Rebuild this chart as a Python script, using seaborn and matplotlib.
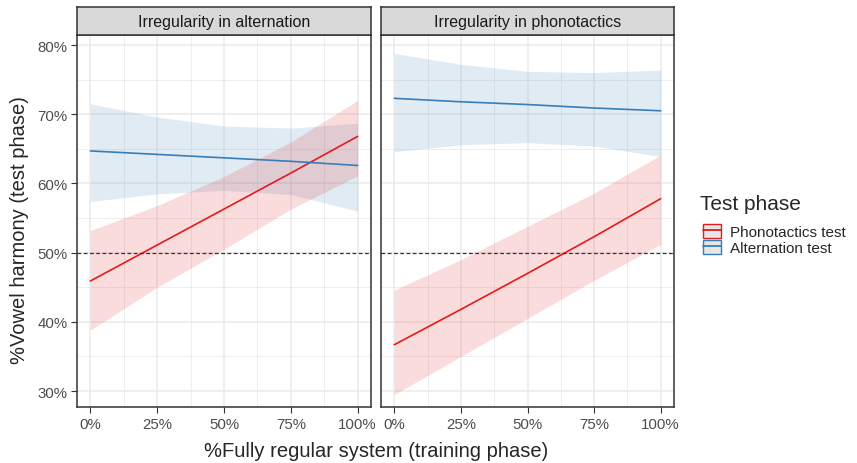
import numpy as np
import pandas as pd
import matplotlib as mpl
import matplotlib.pyplot as plt
import seaborn as sns
from matplotlib.patches import Patch
from matplotlib.lines import Line2D

# Data (x = % fully regular system in training)
x_pct = [0, 25, 50, 75, 100]
panels = ['Irregularity in alternation', 'Irregularity in phonotactics']
series = ['Phonotactics test', 'Alternation test']

# panel 1: irregularity in alternation
alt_phono_fit = [45.9, 51.1, 56.3, 61.5, 66.8]
alt_phono_lo = [38.8, 45.0, 50.5, 56.3, 61.1]
alt_phono_hi = [53.2, 56.8, 61.0, 66.0, 72.0]
alt_alt_fit = [64.7, 64.2, 63.7, 63.2, 62.6]
alt_alt_lo = [57.4, 58.5, 59.0, 58.4, 56.0]
alt_alt_hi = [71.5, 69.6, 68.3, 68.0, 68.7]

# panel 2: irregularity in phonotactics
pho_phono_fit = [36.7, 41.8, 47.0, 52.3, 57.8]
pho_phono_lo = [29.5, 35.0, 40.5, 46.0, 51.2]
pho_phono_hi = [44.6, 49.0, 53.8, 58.6, 64.1]
pho_alt_fit = [72.3, 71.8, 71.4, 70.9, 70.5]
pho_alt_lo = [64.6, 65.6, 65.9, 65.4, 63.9]
pho_alt_hi = [78.8, 77.2, 76.2, 76.0, 76.4]

colors = {'Phonotactics test': '#E41A1C', 'Alternation test': '#377EB8'}

rows = []
bands = {
    (panels[0], series[0]): (alt_phono_fit, alt_phono_lo, alt_phono_hi),
    (panels[0], series[1]): (alt_alt_fit, alt_alt_lo, alt_alt_hi),
    (panels[1], series[0]): (pho_phono_fit, pho_phono_lo, pho_phono_hi),
    (panels[1], series[1]): (pho_alt_fit, pho_alt_lo, pho_alt_hi),
}
for (p, s), (fit, lo, hi) in bands.items():
    for xv, f, l, h in zip(x_pct, fit, lo, hi):
        rows.append(dict(panel=p, phase=s, x=xv, fit=f, lo=l, hi=h))
df = pd.DataFrame(rows)

sns.set_theme(style='white')
plt.rcParams['font.family'] = ['Liberation Sans', 'DejaVu Sans']

W, H = 857, 464
fig = plt.figure(figsize=(W / 100, H / 100), dpi=100)

def box(l, t, r, b):
    return [l / W, 1 - b / H, (r - l) / W, (b - t) / H]

panel_px = [(77, 371), (381, 674)]
top, bottom, strip_top = 36, 408, 8

for i, (p, (l, r)) in enumerate(zip(panels, panel_px)):
    ax = fig.add_axes(box(l, top, r, bottom))
    sub = df[df.panel == p]
    for s in series[::-1]:
        d = sub[sub.phase == s]
        ax.fill_between(d.x, d.lo, d.hi, color=colors[s], alpha=0.15, lw=0)
    sns.lineplot(data=sub, x='x', y='fit', hue='phase', hue_order=series,
                 palette=colors, lw=1.2, ax=ax, legend=False, zorder=3)
    ax.axhline(50, color='#333333', ls=(0, (3, 2)), lw=0.9, zorder=4)

    ax.set_xlim(-5, 105)
    ax.set_ylim(27.7, 81.45)
    ax.set_xticks([0, 25, 50, 75, 100])
    ax.set_xticklabels(['0%', '25%', '50%', '75%', '100%'])
    ax.set_xticks([12.5, 37.5, 62.5, 87.5], minor=True)
    ax.set_yticks([30, 40, 50, 60, 70, 80])
    ax.set_yticks([35, 45, 55, 65, 75], minor=True)
    ax.grid(True, which='major', color='#EBEBEB', lw=1.1)
    ax.grid(True, which='minor', color='#EBEBEB', lw=0.6)
    ax.set_axisbelow(True)
    for sp in ax.spines.values():
        sp.set_color('#333333')
        sp.set_linewidth(1.1)
    ax.tick_params(axis='both', which='major', length=4, width=0.8,
                   color='#333333', labelsize=10.8, labelcolor='#4D4D4D', pad=3)
    ax.tick_params(axis='both', which='minor', length=0)
    ax.tick_params(left=True, bottom=True)
    if i == 0:
        ax.set_yticklabels(['30%', '40%', '50%', '60%', '70%', '80%'])
    else:
        ax.tick_params(axis='y', left=False, labelleft=False)
    ax.set_xlabel('')
    ax.set_ylabel('')

    # facet strip
    sax = fig.add_axes(box(l, strip_top, r, top))
    sax.set_facecolor('#D9D9D9')
    sax.set_xticks([])
    sax.set_yticks([])
    for sp in sax.spines.values():
        sp.set_color('#333333')
        sp.set_linewidth(1.1)
    sax.text(0.5, 0.47, p, ha='center', va='center', fontsize=11.5,
             color='#1A1A1A', transform=sax.transAxes)

fig.text(376 / W, 1 - 452 / H, '%Fully regular system (training phase)',
         ha='center', va='center', fontsize=14.5)
fig.text(20 / W, 1 - 230 / H, '%Vowel harmony (test phase)',
         ha='center', va='center', rotation=90, fontsize=14.5)

# legend: title drawn separately, keys stacked below it
fig.text(700 / W, 1 - 204 / H, 'Test phase', ha='left', va='center',
         fontsize=15)
handles = []
for s in series:
    handles.append((Patch(facecolor='#E6E6E6', edgecolor=colors[s], lw=1.0),
                    Line2D([], [], color=colors[s], lw=1.3)))
leg = fig.legend(handles, series, loc='upper left',
                 bbox_to_anchor=(703 / W, 1 - 225 / H), frameon=False,
                 fontsize=11, handlelength=1.15, handleheight=1.0,
                 handletextpad=0.6, labelspacing=0.05,
                 borderaxespad=0, borderpad=0)

fig.savefig('out.png', dpi=100)
